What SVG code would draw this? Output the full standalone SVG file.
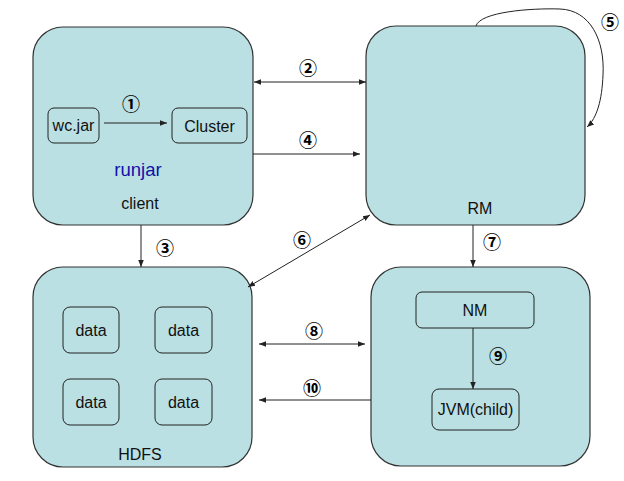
<svg xmlns="http://www.w3.org/2000/svg" width="624" height="481" viewBox="0 0 624 481">
<style>
.big{fill:#BAE0E3;stroke:#333;stroke-width:1.2}
.small{fill:#BAE0E3;stroke:#222;stroke-width:1}
.t{font-family:"Liberation Sans",Arial,sans-serif;font-size:16px;fill:#111;text-anchor:middle}
.n{font-family:"Noto Sans CJK SC","DejaVu Sans",sans-serif;font-size:18px;font-weight:bold;fill:#000;text-anchor:middle}
.c{stroke:#222;stroke-width:1;fill:none}
</style>
<defs>
<marker id="ah" viewBox="0 0 10 10" refX="10" refY="5" markerWidth="7" markerHeight="7" orient="auto-start-reverse" markerUnits="userSpaceOnUse">
<path d="M0,1 L10,5 L0,9 z" fill="#222"/>
</marker>
</defs>
<rect width="624" height="481" fill="#fff"/>
<g id="client">
<rect class="big" x="33" y="27" width="220" height="198" rx="30"/>
<text class="t" x="140" y="209">client</text>
<text class="t" x="138" y="176" style="fill:#1010A8;font-size:18.5px">runjar</text>
</g>
<g id="wcjar">
<rect class="small" x="48" y="108" width="51" height="35" rx="6"/>
<text class="t" x="73.5" y="131">wc.jar</text>
</g>
<g id="cluster">
<rect class="small" x="172" y="108" width="75" height="35" rx="6"/>
<text class="t" x="209.5" y="132">Cluster</text>
</g>
<g id="rm">
<rect class="big" x="366" y="26" width="219" height="199" rx="30"/>
<text class="t" x="480" y="214">RM</text>
</g>
<g id="hdfs">
<rect class="big" x="33" y="267" width="219" height="200" rx="30"/>
<text class="t" x="140" y="460">HDFS</text>
</g>
<g id="data1"><rect class="small" x="63" y="307" width="56" height="46" rx="7"/><text class="t" x="91" y="336">data</text></g>
<g id="data2"><rect class="small" x="155" y="307" width="57" height="46" rx="7"/><text class="t" x="183.5" y="336">data</text></g>
<g id="data3"><rect class="small" x="63" y="379" width="56" height="46" rx="7"/><text class="t" x="91" y="408">data</text></g>
<g id="data4"><rect class="small" x="155" y="379" width="57" height="46" rx="7"/><text class="t" x="183.5" y="408">data</text></g>
<g id="node">
<rect class="big" x="371" y="267" width="219" height="199" rx="30"/>
</g>
<g id="nm">
<rect class="small" x="416" y="292" width="118" height="36" rx="6"/>
<text class="t" x="475" y="316">NM</text>
</g>
<g id="jvm">
<rect class="small" x="432" y="389" width="87" height="41" rx="7"/>
<text class="t" x="475.5" y="415">JVM(child)</text>
</g>
<g id="connectors">
<line class="c" x1="104" y1="123" x2="167" y2="123" marker-end="url(#ah)"/>
<line class="c" x1="254" y1="82" x2="366" y2="82" marker-start="url(#ah)" marker-end="url(#ah)"/>
<line class="c" x1="253" y1="154" x2="360" y2="154" marker-end="url(#ah)"/>
<line class="c" x1="141" y1="225" x2="141" y2="267" marker-end="url(#ah)"/>
<path class="c" d="M476,26 C480,12 530,8 560,9 C590,10 605,40 603,75 C602,100 597,118 587,127" marker-end="url(#ah)"/>
<line class="c" x1="370" y1="215" x2="248" y2="287" marker-start="url(#ah)" marker-end="url(#ah)"/>
<line class="c" x1="473" y1="225" x2="473" y2="267" marker-end="url(#ah)"/>
<line class="c" x1="259" y1="344" x2="365" y2="344" marker-start="url(#ah)" marker-end="url(#ah)"/>
<line class="c" x1="371" y1="400" x2="259" y2="400" marker-end="url(#ah)"/>
<line class="c" x1="473" y1="328" x2="473" y2="389" marker-end="url(#ah)"/>
</g>
<g id="labels">
<text class="n" x="131" y="111">①</text>
<text class="n" x="308" y="75">②</text>
<text class="n" x="165" y="255">③</text>
<text class="n" x="308" y="147">④</text>
<text class="n" x="610" y="29">⑤</text>
<text class="n" x="302" y="247">⑥</text>
<text class="n" x="492" y="249">⑦</text>
<text class="n" x="314" y="338">⑧</text>
<text class="n" x="498" y="363">⑨</text>
<text class="n" x="312" y="395">⑩</text>
</g>
</svg>
